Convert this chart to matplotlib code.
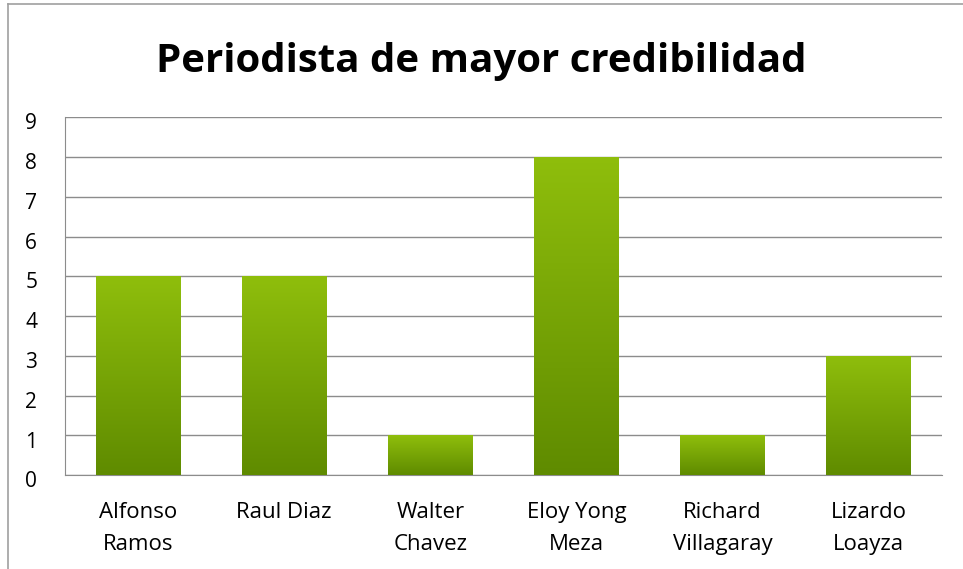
import matplotlib.pyplot as plt
import numpy as np
from matplotlib.colors import LinearSegmentedColormap
from matplotlib.lines import Line2D
from matplotlib.transforms import ScaledTranslation

periodistas = ['Alfonso\nRamos', 'Raul Diaz', 'Walter\nChavez', 'Eloy Yong\nMeza',
               'Richard\nVillagaray', 'Lizardo\nLoayza']
votos = [5, 5, 1, 8, 1, 3]

plt.rcParams['font.family'] = ['Open Sans', 'DejaVu Sans']

fig = plt.figure(figsize=(9.63, 5.69), dpi=100)
ax = fig.add_axes([0.0675, 0.165, 0.978 - 0.0675, 0.794 - 0.165])

# green gradient, light at the top, dark at the base
verde = LinearSegmentedColormap.from_list('verde', ['#5f8b00', '#8fbe0c'])
grad = np.linspace(0, 1, 256).reshape(-1, 1)

x = np.arange(len(votos))
ancho = 0.58
barras = ax.bar(x, votos, width=ancho, color='none', zorder=3)
for b in barras:
    x0, y0 = b.get_x(), b.get_y()
    w, h = b.get_width(), b.get_height()
    im = ax.imshow(grad, extent=[x0, x0 + w, y0, y0 + h], origin='lower',
                   cmap=verde, aspect='auto', zorder=3)
    im.set_clip_path(b)

ax.set_xlim(-0.5, len(votos) - 0.5)
ax.set_ylim(0, 9)
ax.set_yticks(range(0, 10))
ax.set_xticks(x)
ax.set_xticklabels(periodistas, fontsize=16, linespacing=1.7)
ax.tick_params(axis='y', labelsize=15, length=0, pad=20)
ax.tick_params(axis='x', length=0, pad=19)
ax.grid(axis='y', color='#8c8c8c', linewidth=1, zorder=0)
for lado in ['top', 'right']:
    ax.spines[lado].set_visible(False)
for lado in ['left', 'bottom']:
    ax.spines[lado].set_color('#8c8c8c')

# y labels sit a little below their gridlines
bajar = ScaledTranslation(0, -3 / 72, fig.dpi_scale_trans)
for etiqueta in ax.get_yticklabels():
    etiqueta.set_transform(etiqueta.get_transform() + bajar)

fig.text(0.5, 1 - 72 / 569, 'Periodista de mayor credibilidad', ha='center', va='baseline',
         fontsize=29, fontweight='bold')

# frame of the chart area
fig.add_artist(Line2D([8 / 963, 8 / 963], [0, 1 - 4 / 569], color='#a0a0a0', lw=1.2))
fig.add_artist(Line2D([8 / 963, 1], [1 - 4 / 569, 1 - 4 / 569], color='#a0a0a0', lw=1.2))

fig.savefig('out.png', dpi=100)
